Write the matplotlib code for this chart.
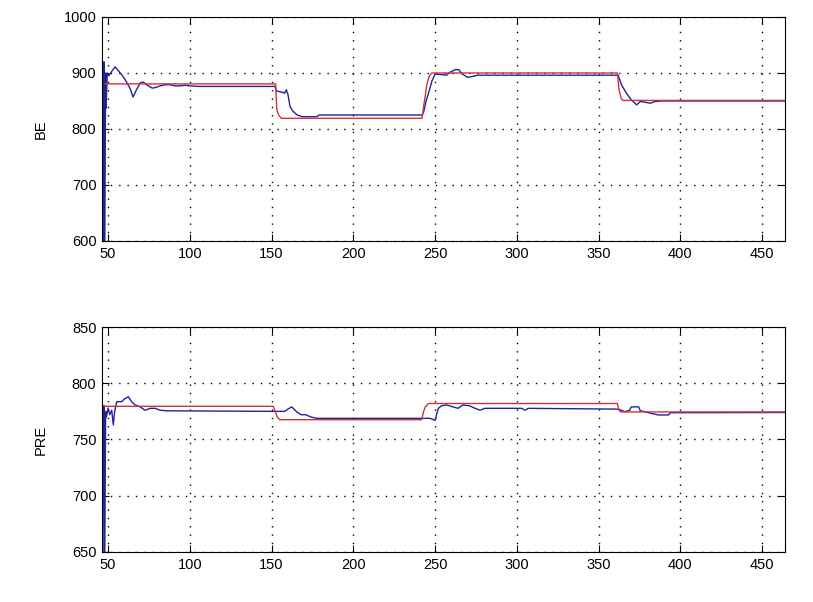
import matplotlib
matplotlib.use('Agg')
import matplotlib.pyplot as plt

plt.rcParams['font.family'] = ['Liberation Sans', 'DejaVu Sans']

# BE (top panel)
be_x = [47, 47.5, 48, 48.5, 48.8, 49.5, 50.5, 52, 54.3, 56, 58, 60, 62, 63.5, 65.3, 67,
        69.6, 71.4, 74, 77, 79, 81.8, 85, 88, 91, 94, 97, 100, 105, 152,
        153, 156, 158, 159, 160, 161.3, 163, 165.6, 168.7, 178, 179, 242,
        243, 244.5, 246, 248, 250, 254, 257, 259, 262.4, 264.5, 266.3, 270, 273, 276, 362,
        364, 367, 370, 373.3, 375.4, 378, 381.5, 384.5, 388, 464]
be_est = [0, 920, 600, 900, 837, 900, 895, 902, 911, 905, 898, 890, 880, 872, 857, 868,
          882, 884, 878, 873, 874, 877, 879, 879, 877, 877, 878, 877, 876, 876,
          868, 866, 864, 870, 862, 840, 832, 825, 822, 822, 825, 825,
          830, 850, 864, 885, 898, 897, 896, 901, 906, 906, 899, 892, 894, 896, 896,
          879, 864, 852, 843, 849, 848, 846, 849, 850, 850]
be_ref_x = [48, 152.5, 153.2, 154.5, 156, 242, 243, 245, 246.5, 248, 361.5, 362.5, 364, 365, 464]
be_ref = [880.5, 880.5, 834, 824, 819, 819, 840, 880, 895, 900, 900, 870, 853, 851, 851]

# PRE (bottom panel)
pre_x = [47, 47.5, 48, 48.5, 49, 50, 51, 52.2, 53.2, 54, 55.3, 58.3, 60, 62.4, 64.4, 66.5,
         69.6, 72.6, 75.7, 78.8, 81.8, 86, 152, 158, 160, 162.3, 165.3, 168, 171, 174,
         177.6, 247, 250, 252, 254, 257, 261, 264, 267, 271, 274.5, 277.5, 280.5, 303,
         305, 307, 362, 364, 366, 369, 370, 374.5, 375.5, 380.5, 386.6, 392.7, 394, 464]
pre_est = [0, 780, 650, 775, 770, 778, 772, 776, 763, 775, 783.6, 783.6, 786, 788, 783.6, 780.7,
           779, 776, 777.7, 777.7, 776, 775.5, 775, 775, 777, 779, 774.7, 772, 772, 770,
           768.8, 768.8, 767, 777.7, 780, 780.7, 779, 777.7, 780.7, 780, 777.7, 776, 777.7, 777.7,
           776, 777.7, 777, 776, 774.7, 776, 779, 779, 775.6, 773.8, 771.8, 771.8, 773.8, 774]
pre_ref_x = [48, 151, 152, 153.5, 155, 241.8, 243, 244, 246, 361.5, 362.5, 363.5, 464]
pre_ref = [779.5, 779.5, 776, 770, 767.6, 767.6, 775, 779, 782, 782, 776, 774.5, 774.5]

xticks = [50, 100, 150, 200, 250, 300, 350, 400, 450]

fig = plt.figure(figsize=(8.13, 6.02), dpi=100)
ax1 = fig.add_axes([0.1255, 0.5997, 0.840, 0.3721])
ax2 = fig.add_axes([0.1255, 0.0831, 0.840, 0.3737])

panels = [(ax1, be_x, be_est, be_ref_x, be_ref, 'BE', (600, 1000), [600, 700, 800, 900, 1000]),
          (ax2, pre_x, pre_est, pre_ref_x, pre_ref, 'PRE', (650, 850), [650, 700, 750, 800, 850])]

for ax, x, est, rx, ref, lab, ylim, yt in panels:
    ax.plot(x, est, color='#22229a', lw=1.0)
    ax.plot(rx, ref, color='#d8303a', lw=1.0)
    ax.set_xlim(46.3, 464)
    ax.set_ylim(*ylim)
    ax.set_xticks(xticks)
    ax.set_yticks(yt)
    ax.grid(True, color='black', linestyle=(0, (1, 5)), linewidth=1.0)
    ax.tick_params(direction='in', length=5, width=0.8, top=True, right=True,
                   labelsize=10.5, pad=4, colors='black')
    for s in ax.spines.values():
        s.set_linewidth(0.8)
    ax.set_ylabel(lab, fontsize=10.5)
    ax.yaxis.set_label_coords(-0.08, 0.5)

fig.savefig('out.png', dpi=100)
